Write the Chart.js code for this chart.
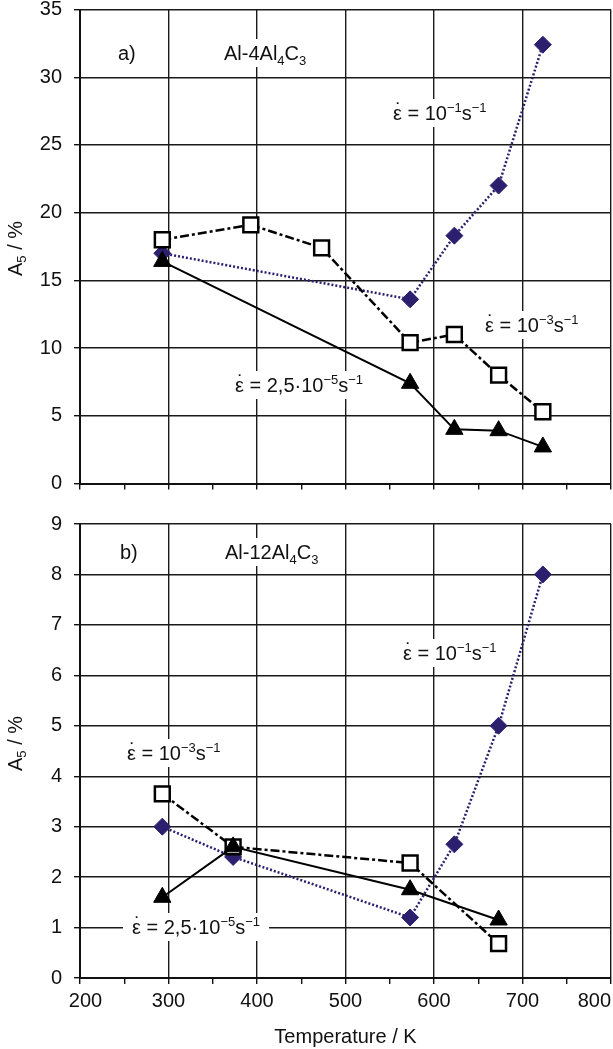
<!DOCTYPE html>
<html>
<head>
<meta charset="utf-8">
<script src="https://cdn.jsdelivr.net/npm/chart.js@4.4.0/dist/chart.umd.min.js"></script>
<style>
  body { margin: 0; background: #fff; }
  #wrap { position: relative; width: 613px; height: 1049px; }
  canvas { position: absolute; left: 0; }
</style>
</head>
<body>
<div id="wrap">
  <canvas id="chartA" style="top:0px"></canvas>
  <canvas id="chartB" style="top:500px"></canvas>
</div>
<script>
// panel a) Al-4Al4C3
const aSlowT = [293, 573, 623, 673, 723];
const aSlowVal = [16.4, 7.4, 4.0, 3.9, 2.7];
const aMidT = [293, 393, 473, 573, 623, 673, 723];
const aMidVal = [18.0, 19.1, 17.4, 10.4, 11.0, 8.0, 5.3];
const aFastT = [293, 573, 623, 673, 723];
const aFastVal = [17.0, 13.6, 18.3, 22.0, 32.4];

// panel b) Al-12Al4C3
const bSlowT = [293, 373, 573, 673];
const bSlowVal = [1.6, 2.6, 1.75, 1.15];
const bMidT = [293, 373, 573, 673];
const bMidVal = [3.65, 2.6, 2.28, 0.68];
const bFastT = [293, 373, 573, 623, 673, 723];
const bFastVal = [3.0, 2.4, 1.2, 2.65, 5.0, 8.0];

const xTicks = [200, 300, 400, 500, 600, 700, 800];
const FONT = '"Liberation Sans", Arial, sans-serif';
const NAVY = "#2b1f6e";

const toPoints = (xs, ys) => xs.map((x, i) => ({ x: x, y: ys[i] }));

// text made of runs: [text, size, raise]; "ε" runs get a dot above
function drawRich(ctx, x, yc, runs, bg) {
  let w = 0;
  runs.forEach((r) => {
    ctx.font = r[1] + "px " + FONT;
    w += ctx.measureText(r[0]).width;
  });
  if (bg) {
    ctx.fillStyle = "#fff";
    ctx.fillRect(x - bg, yc - 14, w + 2 * bg, 28);
  }
  ctx.fillStyle = "#111";
  ctx.textBaseline = "alphabetic";
  ctx.textAlign = "left";
  let cx = x;
  runs.forEach((r) => {
    ctx.font = r[1] + "px " + FONT;
    const rw = ctx.measureText(r[0]).width;
    ctx.fillText(r[0], cx, yc + 7 + r[2]);
    if (r[0] === "ε") {
      ctx.textAlign = "center";
      ctx.fillText("˙", cx + rw / 2 + 1, yc + 4);
      ctx.textAlign = "left";
    }
    cx += rw;
  });
}

const epsRuns = (base, exp) => [
  ["ε", 20, 0],
  [" = " + base, 20, 0],
  ["−" + exp, 13, -8],
  ["s", 20, 0],
  ["−1", 13, -8],
];

function makeNotes(notes, titleY) {
  return {
    id: "notes",
    beforeDatasetsDraw(chart) {
      const ctx = chart.ctx;
      ctx.save();
      notes.forEach((n) => drawRich(ctx, n.x, n.y, n.runs, n.bg));
      // y axis title A5 / %
      ctx.translate(15, titleY);
      ctx.rotate(-Math.PI / 2);
      drawRich(ctx, -29, 0, [["A", 20, 0], ["5", 13, 4], [" / %", 20, 0]], 0);
      ctx.restore();
    },
  };
}

function makeChart(id, height, slow, mid, fast, yMax, yStep, showX, padTop, xHeight, notes, titleY) {
  const canvas = document.getElementById(id);
  canvas.width = 613;
  canvas.height = height;
  return new Chart(canvas, {
    type: "scatter",
    data: {
      datasets: [
        {
          label: "2,5·10-5 s-1",
          data: slow,
          showLine: true,
          borderColor: "#000",
          borderWidth: 2,
          pointStyle: "triangle",
          pointRadius: 10,
          pointBackgroundColor: "#000",
          pointBorderColor: "#000",
          pointBorderWidth: 1,
        },
        {
          label: "10-3 s-1",
          data: mid,
          showLine: true,
          borderColor: "#000",
          borderWidth: 2.5,
          borderDash: [9, 3, 3, 3],
          pointStyle: "rect",
          pointRadius: 10.5,
          pointBackgroundColor: "#fff",
          pointBorderColor: "#000",
          pointBorderWidth: 2.5,
        },
        {
          label: "10-1 s-1",
          data: fast,
          showLine: true,
          borderColor: NAVY,
          borderWidth: 2.5,
          borderDash: [2, 2],
          pointStyle: "rectRot",
          pointRadius: 8.5,
          pointBackgroundColor: NAVY,
          pointBorderColor: NAVY,
          pointBorderWidth: 1,
        },
      ],
    },
    options: {
      responsive: false,
      animation: false,
      events: [],
      layout: { autoPadding: false, padding: { top: padTop, right: 2, left: 0, bottom: 0 } },
      plugins: { legend: { display: false }, tooltip: { enabled: false } },
      scales: {
        x: {
          type: "linear",
          min: 200,
          max: 800,
          afterBuildTicks: (s) => {
            const t = [];
            for (let v = 200; v <= 800; v += 50) t.push({ value: v });
            s.ticks = t;
          },
          ticks: {
            display: showX,
            autoSkip: false,
            maxRotation: 0,
            padding: 5,
            color: "#111",
            font: { family: FONT, size: 20 },
            callback: (v) => {
              if (!xTicks.includes(v)) return "";
              if (v === 200) return "  200";
              if (v === 800) return "800      ";
              return String(v);
            },
          },
          grid: {
            color: (c) => (c.tick && c.tick.value % 100 === 0 ? "#1a1a1a" : "rgba(0,0,0,0)"),
            tickColor: "#111",
            lineWidth: 1.4,
            tickLength: 6,
          },
          border: { color: "#111", width: 2 },
          title: {
            display: showX,
            text: "Temperature / K",
            color: "#111",
            font: { family: FONT, size: 20 },
            padding: { top: 4, bottom: 0 },
          },
          afterFit: (s) => {
            s.height = xHeight;
            s.paddingLeft = 0;
            s.paddingRight = 0;
          },
        },
        y: {
          min: 0,
          max: yMax,
          ticks: {
            stepSize: yStep,
            padding: 12,
            color: "#111",
            font: { family: FONT, size: 20, lineHeight: 1 },
          },
          grid: { color: "#1a1a1a", lineWidth: 1.4, tickLength: 6, tickColor: "#111" },
          border: { color: "#111", width: 2 },
          afterFit: (s) => {
            s.width = 80;
            s.paddingTop = 0;
            s.paddingBottom = 0;
          },
        },
      },
    },
    plugins: [makeNotes(notes, titleY)],
  });
}

makeChart(
  "chartA", 500,
  toPoints(aSlowT, aSlowVal), toPoints(aMidT, aMidVal), toPoints(aFastT, aFastVal),
  35, 5, false, 9.5, 16.5,
  [
    { x: 118, y: 53, runs: [["a)", 20, 0]], bg: 0 },
    { x: 224, y: 53, runs: [["Al-4Al", 20, 0], ["4", 13, 5], ["C", 20, 0], ["3", 13, 5]], bg: 3 },
    { x: 393, y: 113, runs: epsRuns("10", "1"), bg: 3 },
    { x: 485, y: 325, runs: epsRuns("10", "3"), bg: 3 },
    { x: 235, y: 385, runs: epsRuns("2,5·10", "5"), bg: 3 },
  ],
  247
);

makeChart(
  "chartB", 549,
  toPoints(bSlowT, bSlowVal), toPoints(bMidT, bMidVal), toPoints(bFastT, bFastVal),
  9, 1, true, 24, 71,
  [
    { x: 120, y: 52, runs: [["b)", 20, 0]], bg: 0 },
    { x: 225, y: 52, runs: [["Al-12Al", 20, 0], ["4", 13, 5], ["C", 20, 0], ["3", 13, 5]], bg: 3 },
    { x: 403, y: 153, runs: epsRuns("10", "1"), bg: 3 },
    { x: 127, y: 253, runs: epsRuns("10", "3"), bg: 3 },
    { x: 132, y: 427, runs: epsRuns("2,5·10", "5"), bg: 9 },
  ],
  242
);
</script>
</body>
</html>
